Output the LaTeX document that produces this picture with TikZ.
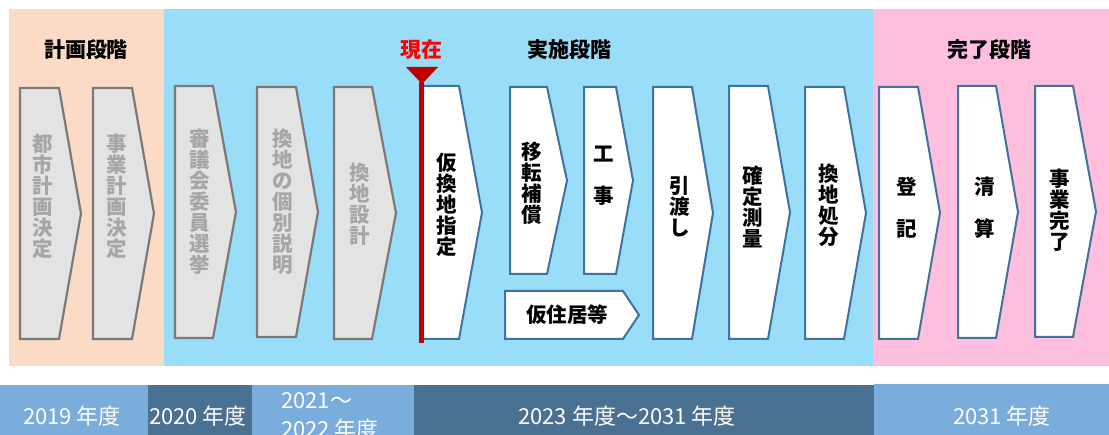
\documentclass[tikz,border=0pt]{standalone}
\usepackage{fontspec}
\newfontfamily\jp{Noto Sans CJK JP}
\definecolor{peach}{HTML}{FBDBC6}
\definecolor{skyb}{HTML}{9ADDF8}
\definecolor{pinkb}{HTML}{FEBFDF}
\definecolor{tlight}{HTML}{7AADDC}
\definecolor{tdark}{HTML}{4A7092}
\definecolor{bstroke}{HTML}{41719C}
\definecolor{gfill}{HTML}{E3E3E3}
\definecolor{gstroke}{HTML}{7A7A7A}
\definecolor{gtext}{HTML}{A6A6A6}
\definecolor{nowred}{HTML}{C00000}
\definecolor{nowtext}{HTML}{FF0000}
\newcommand\chevbox[6]{%
  \draw[#1] (#2,#5) -- (#3,#5) -- (#4,{(#5+#6)/2}) -- (#3,#6) -- (#2,#6) -- cycle;}
\tikzset{
  graybox/.style={fill=gfill, draw=gstroke, line width=2.2pt, line join=miter},
  whitebox/.style={fill=white, draw=bstroke, line width=2pt, line join=miter},
  coltxt/.style={font=\jp\bfseries\fontsize{20.5}{21}\selectfont, align=center, inner sep=0pt},
  gtxt/.style={coltxt, text=gtext},
  btxt/.style={coltxt, text=black},
  headtxt/.style={font=\jp\bfseries\fontsize{21}{24}\selectfont, inner sep=0pt},
  yeartxt/.style={font=\jp\fontsize{22}{29}\selectfont, text=white, inner sep=0pt}
}
\begin{document}
\begin{tikzpicture}[x=1pt, y=-1pt]
\useasboundingbox (0,0) rectangle (1109,435);
% stage backgrounds
\fill[peach] (9,9) rectangle (164,366);
\fill[skyb] (164,9) rectangle (873,366);
\fill[pinkb] (873,9) rectangle (1109,366);
% timeline bar
\fill[tlight] (0,385) rectangle (148,435);
\fill[tdark] (148,385) rectangle (252,435);
\fill[tlight] (252,385) rectangle (414,435);
\fill[tdark] (414,385) rectangle (874,435);
\fill[tlight] (874,384) rectangle (1109,435);
% headings
\node[headtxt] (h1) at (86,50) {計画段階};
\node[headtxt] (h2) at (569,50) {実施段階};
\node[headtxt] (h3) at (989,50) {完了段階};
\node[headtxt, text=nowtext] (now) at (421,50) {現在};
% gray (past) steps
\chevbox{graybox}{20}{59}{81}{88}{339}
\chevbox{graybox}{93}{132}{154}{88}{339}
\chevbox{graybox}{175}{213}{236}{86}{338}
\chevbox{graybox}{257}{296}{318}{87}{337}
\chevbox{graybox}{334}{372}{396}{87}{339}
\node[gtxt] (g1) at (43,196) {都\\市\\計\\画\\決\\定};
\node[gtxt] (g2) at (117,196) {事\\業\\計\\画\\決\\定};
\node[gtxt] (g3) at (200,202) {審\\議\\会\\委\\員\\選\\挙};
\node[gtxt] (g4) at (283,202) {換\\地\\の\\個\\別\\説\\明};
\node[gtxt] (g5) at (360,204) {換\\地\\設\\計};
% white steps
\chevbox{whitebox}{423}{459}{482}{86}{339}
\chevbox{whitebox}{510}{547}{567}{87}{274}
\chevbox{whitebox}{584}{616}{633}{87}{274}
\chevbox{whitebox}{505}{623}{639}{291}{339}
\chevbox{whitebox}{653}{692}{713}{87}{339}
\chevbox{whitebox}{729}{768}{790}{86}{339}
\chevbox{whitebox}{805}{844}{866}{87}{339}
\chevbox{whitebox}{879}{918}{940}{87}{339}
\chevbox{whitebox}{958}{996}{1018}{86}{338}
\chevbox{whitebox}{1035}{1073}{1096}{86}{337}
\node[btxt] (w1) at (447,205) {仮\\換\\地\\指\\定};
\node[btxt] (w2) at (532,183) {移\\転\\補\\償};
\node[btxt] (w3) at (604,176) {工\\[21pt]事};
\node[btxt] (w4) at (567,315) {仮住居等};
\node[btxt] (w5) at (680,207) {引\\渡\\し};
\node[btxt] (w6) at (753,207) {確\\定\\測\\量};
\node[btxt] (w7) at (829,205) {換\\地\\処\\分};
\node[btxt] (w8) at (907,208) {登\\[21pt]記};
\node[btxt] (w9) at (985,208) {清\\[21pt]算};
\node[btxt] (w10) at (1060,210) {事\\業\\完\\了};
% now marker
\coordinate (nowtop) at (421,82);
\coordinate (nowbot) at (421,343);
\draw[nowred, line width=5pt] (nowtop) -- (nowbot);
\fill[nowred] (406,67) -- (438,67) -- (422,84) -- cycle;
% years
\node[yeartxt] (y1) at (72,416) {2019 年度};
\node[yeartxt] (y2) at (198,416) {2020 年度};
\node[yeartxt, align=left, anchor=north west] (y3) at (281,392) {2021～\\2022 年度};
\node[yeartxt] (y4) at (627,416) {2023 年度～2031 年度};
\node[yeartxt] (y5) at (1002,416) {2031 年度};
\end{tikzpicture}
\end{document}
